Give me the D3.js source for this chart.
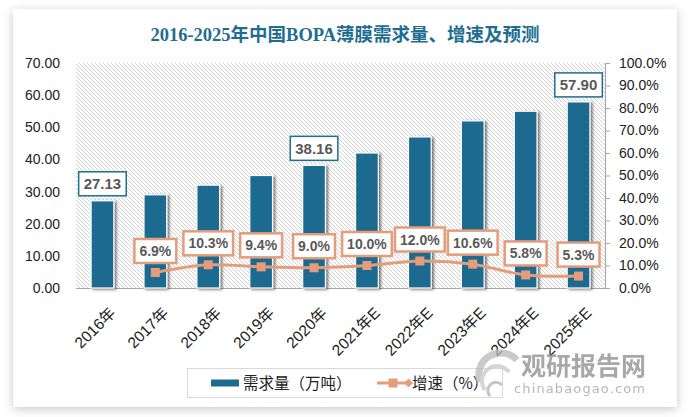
<!DOCTYPE html>
<html><head><meta charset="utf-8">
<script src="https://cdn.jsdelivr.net/npm/d3@7/dist/d3.min.js"></script>
<style>
html,body{margin:0;padding:0;background:#fff;}
svg{display:block;}
</style></head>
<body>
<svg id="chart" width="688" height="417"></svg>
<script>
const title = "2016-2025年中国BOPA薄膜需求量、增速及预测";
const categories = ["2016年","2017年","2018年","2019年","2020年","2021年E","2022年E","2023年E","2024年E","2025年E"];
const demand = [27.13, 29.0, 32.0, 35.0, 38.16, 42.0, 47.0, 52.0, 55.0, 57.90];
const growth = [null, 6.9, 10.3, 9.4, 9.0, 10.0, 12.0, 10.6, 5.8, 5.3];
const labeledBars = ["2016年","2020年","2025年E"];
const leftTicks = [0,10,20,30,40,50,60,70];
const rightTicks = [0,10,20,30,40,50,60,70,80,90,100];
const legendNames = ["需求量（万吨）","增速（%）"];

const barColor = "#1d6b8f";
const lineColor = "#e59c7a";
const textGray = "#595959";
const latin = "'Liberation Sans','Noto Sans CJK SC',sans-serif";

const svg = d3.select("#chart");
const defs = svg.append("defs");

const f = defs.append("filter").attr("id","cardShadow").attr("x","-10%").attr("y","-10%").attr("width","120%").attr("height","120%");
f.append("feDropShadow").attr("dx",0).attr("dy",2).attr("stdDeviation",5).attr("flood-color","#000").attr("flood-opacity",0.22);
const bf = defs.append("filter").attr("id","barShadow").attr("x","-30%").attr("y","-10%").attr("width","170%").attr("height","130%");
bf.append("feDropShadow").attr("dx",2).attr("dy",1).attr("stdDeviation",1.8).attr("flood-color","#000").attr("flood-opacity",0.55);

const pat = defs.append("pattern").attr("id","hatch").attr("patternUnits","userSpaceOnUse").attr("width",4).attr("height",4);
pat.append("rect").attr("width",4).attr("height",4).attr("fill","#ffffff");
pat.append("path").attr("d","M-1,-1L5,5M-1,3L1,5M3,-1L5,1").attr("stroke","#cdcdcd").attr("stroke-width",0.9);

svg.append("rect").attr("x",13).attr("y",9).attr("width",664).attr("height",398).attr("fill","#fff").attr("filter","url(#cardShadow)");

svg.append("text").attr("x",345).attr("y",41).attr("text-anchor","middle")
  .attr("font-family","'Liberation Serif','Noto Sans CJK SC',serif").attr("font-weight","bold")
  .attr("font-size",18.5).attr("fill","#1f6e91").text(title);

const plot = {l:76, r:605, t:63, b:288};
const x = d3.scaleBand().domain(categories).range([plot.l, plot.r]).paddingInner(0.57).paddingOuter(0.285);
const xc = d => x(d) + x.bandwidth()/2;
const yL = d3.scaleLinear().domain([0,70]).range([plot.b, plot.t]);
const yR = d3.scaleLinear().domain([0,100]).range([plot.b, plot.t]);

svg.append("rect").attr("x",plot.l).attr("y",plot.t).attr("width",plot.r-plot.l).attr("height",plot.b-plot.t).attr("fill","url(#hatch)");

const gL = svg.append("g").attr("transform",`translate(${plot.l},0)`)
  .call(d3.axisLeft(yL).tickValues(leftTicks).tickFormat(d3.format(".2f")).tickSize(0).tickPadding(16));
gL.select(".domain").remove();
gL.selectAll("text").attr("font-family",latin).attr("font-size",14).attr("fill","#222");

const gR = svg.append("g").attr("transform",`translate(${plot.r},0)`)
  .call(d3.axisRight(yR).tickValues(rightTicks).tickFormat(d => d.toFixed(1)+"%").tickSize(5).tickSizeOuter(0).tickPadding(9));
gR.select(".domain").attr("stroke","#a6a6a6");
gR.selectAll("line").attr("stroke","#a6a6a6");
gR.selectAll("text").attr("font-family",latin).attr("font-size",14).attr("fill","#222");

svg.append("line").attr("x1",plot.l).attr("x2",plot.r).attr("y1",plot.b+0.5).attr("y2",plot.b+0.5).attr("stroke","#a6a6a6").attr("stroke-width",1.2);

svg.append("g").selectAll("rect").data(categories).join("rect")
  .attr("x", d => x(d)).attr("width", x.bandwidth())
  .attr("y", (d,i) => yL(demand[i])).attr("height", (d,i) => plot.b - yL(demand[i]))
  .attr("fill", barColor).attr("stroke","#fff").attr("stroke-width",1.2)
  .attr("filter","url(#barShadow)");

svg.append("g").selectAll("text").data(categories).join("text")
  .attr("transform", d => `translate(${xc(d)+14},${314}) rotate(-45)`)
  .attr("text-anchor","end").attr("font-family",latin).attr("font-size",15.5).attr("fill","#222")
  .text(d => d);

const pts = categories.map((c,i) => ({c, v: growth[i]})).filter(p => p.v != null);
svg.append("path").datum(pts)
  .attr("d", d3.line().x(p => xc(p.c)).y(p => yR(p.v)).curve(d3.curveCatmullRom.alpha(0.5)))
  .attr("fill","none").attr("stroke",lineColor).attr("stroke-width",3);
svg.append("g").selectAll("rect").data(pts).join("rect")
  .attr("x", p => xc(p.c)-4.5).attr("y", p => yR(p.v)-4.5).attr("width",9).attr("height",9).attr("fill",lineColor);

function boxLabel(cx, bottom, txt, size, border, bw) {
  const g = svg.append("g");
  const t = g.append("text").attr("x",cx).attr("text-anchor","middle")
    .attr("font-family",latin).attr("font-weight","bold").attr("font-size",size).attr("fill",textGray).text(txt);
  const w = t.node().getComputedTextLength();
  const h = 24;
  const top = bottom - h;
  t.attr("y", top + h/2 + size*0.36);
  g.insert("rect","text").attr("x",cx - w/2 - 5).attr("y",top).attr("width",w+10).attr("height",h)
    .attr("fill","#fff").attr("stroke",border).attr("stroke-width",bw);
}
categories.forEach((c,i) => {
  if (labeledBars.includes(c)) boxLabel(xc(c), yL(demand[i]) - 5, demand[i].toFixed(2), 15, "#1f6e91", 1.5);
});
pts.forEach(p => boxLabel(xc(p.c), yR(p.v) - 9.5, p.v.toFixed(1)+"%", 14, lineColor, 2.5));

const lg = svg.append("g");
lg.append("rect").attr("x",187.5).attr("y",368.5).attr("width",315).attr("height",29).attr("fill","#fff").attr("stroke","#d9d9d9");
lg.append("rect").attr("x",211).attr("y",379.5).attr("width",28).attr("height",7).attr("fill",barColor);
lg.append("text").attr("x",243).attr("y",389).attr("font-family","'Noto Sans CJK SC',sans-serif").attr("font-size",15.5).attr("fill","#222").text(legendNames[0]);
lg.append("line").attr("x1",377).attr("x2",409).attr("y1",383).attr("y2",383).attr("stroke",lineColor).attr("stroke-width",3);
lg.append("rect").attr("x",388.5).attr("y",378.5).attr("width",9).attr("height",9).attr("fill",lineColor);
lg.append("path").attr("d","M404,383L408.5,378.5L413,383L408.5,387.5Z").attr("fill",lineColor);
lg.append("text").attr("x",412).attr("y",389).attr("font-family","'Noto Sans CJK SC',sans-serif").attr("font-size",15.5).attr("fill","#222").text(legendNames[1]);

const wm = svg.append("g").attr("opacity",0.75);
wm.append("path").attr("d","M480,382 A22,22 0 0 1 517,360").attr("fill","none").attr("stroke","#b9b9b9").attr("stroke-width",7);
wm.append("path").attr("d","M485,390 A15,15 0 0 1 509,372").attr("fill","none").attr("stroke","#c8c8c8").attr("stroke-width",4);
wm.append("path").attr("d","M490,396 A8,8 0 0 1 502,385").attr("fill","none").attr("stroke","#b0b0b0").attr("stroke-width",3);
wm.append("text").attr("x",521).attr("y",375).attr("font-family","'Noto Sans CJK SC',sans-serif").attr("font-weight","bold")
  .attr("font-size",25).attr("fill","#8c8c8c").text("观研报告网");
wm.append("text").attr("x",514).attr("y",393).attr("font-family","'DejaVu Sans',sans-serif")
  .attr("font-size",13).attr("fill","#a0a0a0").attr("textLength",131).text("chinabaogao.com");
</script>
</body></html>
